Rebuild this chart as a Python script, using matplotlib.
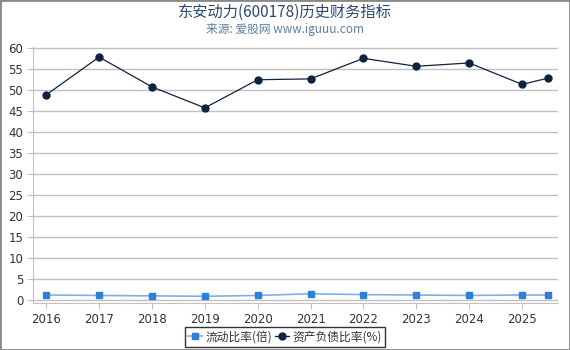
import matplotlib
matplotlib.use("Agg")
import matplotlib.pyplot as plt
from matplotlib.patches import Rectangle

plt.rcParams['font.family'] = ['Noto Sans CJK SC', 'DejaVu Sans']

# data
years = [2016, 2017, 2018, 2019, 2020, 2021, 2022, 2023, 2024, 2025, 2025.5]
tick_years = [2016, 2017, 2018, 2019, 2020, 2021, 2022, 2023, 2024, 2025]
current_ratio = [1.2, 1.1, 1.0, 0.9, 1.1, 1.5, 1.3, 1.2, 1.1, 1.2, 1.2]
debt_ratio = [48.9, 57.9, 50.8, 45.8, 52.5, 52.7, 57.6, 55.7, 56.5, 51.4, 52.9]
y_ticks = list(range(0, 61, 5))

fig = plt.figure(figsize=(5.7, 3.5), dpi=100)
ax = fig.add_axes([33 / 570, 1 - 303 / 350, (558 - 33) / 570, (303 - 47) / 350])

ax.plot(years, current_ratio, color='#7cb0ea', linewidth=1.2, marker='s',
        markersize=5, markerfacecolor='#2f7ed8', markeredgecolor='#2f7ed8',
        label='流动比率(倍)')
ax.plot(years, debt_ratio, color='#0e2340', linewidth=0.9, marker='o',
        markersize=5, markerfacecolor='#0e2340', markeredgecolor='#0e2340',
        label='资产负债比率(%)')

ax.set_xlim(2015.75, 2025.68)
ax.set_ylim(-0.7, 60.3)
ax.set_xticks(tick_years)
ax.set_xticklabels([str(y) for y in tick_years], family='DejaVu Sans')
ax.set_yticks(y_ticks)
ax.set_yticklabels([str(v) for v in y_ticks], family='DejaVu Sans')
ax.grid(axis='y', color='#c0c0c0', linewidth=1)
ax.set_axisbelow(True)
for side in ['top', 'right']:
    ax.spines[side].set_visible(False)
ax.spines['left'].set_color('#c0c0c0')
ax.spines['bottom'].set_color('#c0c0c0')
ax.tick_params(axis='both', colors='#c0c0c0', labelcolor='#333333', labelsize=8.5, length=4)
ax.tick_params(axis='y', pad=3)

fig.text(0.5, 1 - 12 / 350, '东安动力(600178)历史财务指标', ha='center', va='center',
         fontsize=11, color='#2b4a6e')
fig.text(0.5, 1 - 29 / 350, '来源: 爱股网 www.iguuu.com', ha='center', va='center',
         fontsize=8.5, color='#5a7fa8')

leg = fig.legend(loc='center', bbox_to_anchor=(0.5, 1 - 337 / 350), ncol=2,
                 fontsize=8.5, frameon=True, fancybox=False, borderpad=0.3,
                 handlelength=1.2, handletextpad=0.3, columnspacing=0.2,
                 borderaxespad=0)
leg.get_frame().set_edgecolor('black')
leg.get_frame().set_linewidth(1)
for t in leg.get_texts():
    t.set_color('#333333')

fig.patches.append(Rectangle((0, 0), 1, 1, transform=fig.transFigure,
                             fill=False, edgecolor='#888888', linewidth=2))

fig.savefig('out.png', dpi=100)
